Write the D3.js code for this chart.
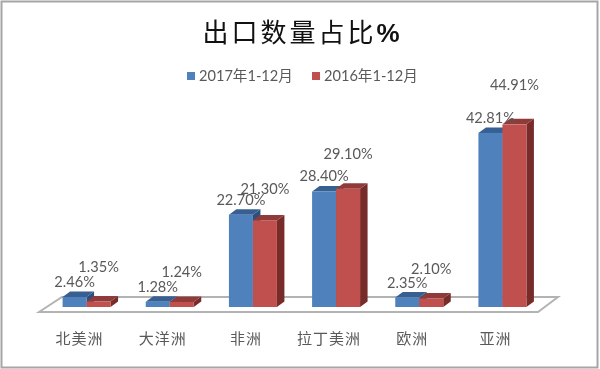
<!DOCTYPE html>
<html>
<head>
<meta charset="utf-8">
<script src="https://cdn.jsdelivr.net/npm/d3@7"></script>
<style>
  html, body { margin: 0; padding: 0; background: #fff; }
  svg { display: block; filter: blur(0.35px); }
  .axis text { font-family: "Noto Sans CJK SC", sans-serif; font-size: 15px; fill: #595959; letter-spacing: 1px; }
  .axis path, .axis line { display: none; }
  .bar-label, .legend-label { font-family: Lato, "Noto Sans CJK SC", sans-serif; font-size: 14.6px; fill: #595959; }
  .chart-title { font-family: "Noto Sans CJK SC", sans-serif; font-size: 26px; fill: #111; letter-spacing: 3px; }
  .chart-title .pct { font-family: "Liberation Sans", sans-serif; font-weight: bold; letter-spacing: 0; }
</style>
</head>
<body>
<svg id="chart" width="600" height="369"></svg>
<script>
const categories = ['北美洲', '大洋洲', '非洲', '拉丁美洲', '欧洲', '亚洲'];
const seriesNames = ['2017年1-12月', '2016年1-12月'];
const values2017 = [2.46, 1.28, 22.70, 28.40, 2.35, 42.81];
const values2016 = [1.35, 1.24, 21.30, 29.10, 2.10, 44.91];

// Excel drops the 2016 labels higher than the 2017 ones, by a varying amount
const labelRaise2017 = [15, 15, 15, 16, 15, 15];
const labelRaise2016 = [35, 30, 31, 35, 30, 39];

const width = 600, height = 369;
const barWidth = 24;
const depthX = 7.5, depthY = 5.5;   // fake 3d offset

const colors = [
  {front: '#4f81bd', top: '#385f92', side: '#2f4f7a'},
  {front: '#c0504d', top: '#8f3b39', side: '#772c2a'}
];

const svg = d3.select('#chart');

// Frame
svg.append('rect')
    .attr('x', 1.5).attr('y', 1.5)
    .attr('width', 596).attr('height', 366)
    .attr('fill', '#fff')
    .attr('stroke', '#a6a6a6')
    .attr('stroke-width', 2);

// Title
const title = svg.append('text')
    .attr('class', 'chart-title')
    .attr('x', 301)
    .attr('y', 42)
    .attr('text-anchor', 'middle');
title.append('tspan').text('出口数量占比');
title.append('tspan').attr('class', 'pct').text('%');

// Scales
const xScale = d3.scaleBand().domain(categories).range([45, 544]);
const yScale = d3.scaleLinear().domain([0, 45]).range([307, 124]);
const base = yScale(0);

// Floor of the 3d plot
svg.append('path')
    .attr('d', d3.line()([[39, base + 5], [62, base - 10], [558, base - 10], [538, base + 5]]) + 'Z')
    .attr('fill', '#fff')
    .attr('stroke', '#b3b3b3')
    .attr('stroke-width', 2);

// Category axis, shifted left of the bars like the original
svg.append('g')
    .attr('class', 'axis')
    .attr('transform', 'translate(-7,333)')
    .call(d3.axisBottom(xScale).tickSize(0).tickPadding(0));

const series = [values2017, values2016];

series.forEach((vals, s) => {
  const g = svg.append('g').attr('class', 'series-' + s);
  const c = colors[s];
  const bars = g.selectAll('g')
      .data(categories.map((cat, i) => ({cat, v: vals[i]})))
    .join('g')
      .attr('transform', d => `translate(${xScale(d.cat) + xScale.bandwidth() / 2 + (s - 1) * barWidth},0)`);

  // side face
  bars.append('path')
      .attr('fill', c.side)
      .attr('d', d => {
        const t = yScale(d.v);
        return d3.line()([[barWidth, t], [barWidth + depthX, t - depthY], [barWidth + depthX, base - depthY], [barWidth, base]]) + 'Z';
      });

  // top face
  bars.append('path')
      .attr('fill', c.top)
      .attr('d', d => {
        const t = yScale(d.v);
        return d3.line()([[0, t], [depthX, t - depthY], [barWidth + depthX, t - depthY], [barWidth, t]]) + 'Z';
      });

  // front face
  bars.append('rect')
      .attr('fill', c.front)
      .attr('x', 0)
      .attr('y', d => yScale(d.v))
      .attr('width', barWidth)
      .attr('height', d => base - yScale(d.v));
});

// Value labels go on top of every bar
series.forEach((vals, s) => {
  const raise = s === 0 ? labelRaise2017 : labelRaise2016;
  svg.append('g').selectAll('text')
      .data(vals)
    .join('text')
      .attr('class', 'bar-label')
      .attr('text-anchor', 'middle')
      .attr('dy', '.35em')
      .attr('x', (d, i) => xScale(categories[i]) + xScale.bandwidth() / 2 + (s - 1) * barWidth + 12)
      .attr('y', (d, i) => yScale(d) - raise[i])
      .text(d => d.toFixed(2) + '%');
});

// Legend
const legend = svg.append('g').selectAll('g')
    .data(seriesNames)
  .join('g')
    .attr('transform', (d, i) => `translate(${187 + i * 125},0)`);

legend.append('rect')
    .attr('y', 72)
    .attr('width', 8)
    .attr('height', 8)
    .attr('fill', (d, i) => colors[i].front);

legend.append('text')
    .attr('class', 'legend-label')
    .attr('x', 12)
    .attr('y', 76)
    .attr('dy', '.35em')
    .text(d => d);
</script>
</body>
</html>
